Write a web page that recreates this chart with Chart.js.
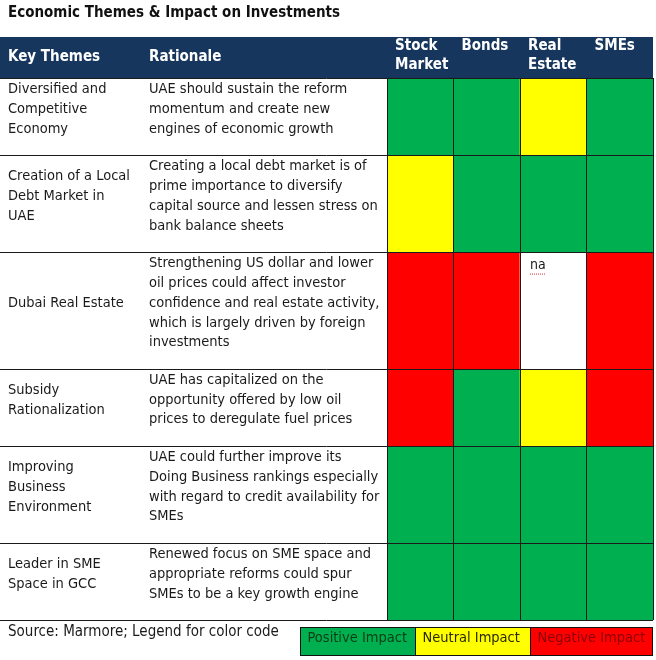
<!DOCTYPE html>
<html lang="en">
<head>
<meta charset="UTF-8">
<title>Economic Themes &amp; Impact on Investments</title>
<script src="https://cdn.jsdelivr.net/npm/chart.js"></script>
<style>
    body { margin: 0; background: #fff; }
</style>
</head>
<body>
<canvas id="myChart" width="656" height="660"></canvas>
<script>
const title = 'Economic Themes & Impact on Investments';
const textHeaders = ['Key Themes', 'Rationale'];
const impactColumns = [['Stock', 'Market'], ['Bonds'], ['Real', 'Estate'], ['SMEs']];

const themes = [
    ['Diversified and', 'Competitive', 'Economy'],
    ['Creation of a Local', 'Debt Market in', 'UAE'],
    ['Dubai Real Estate'],
    ['Subsidy', 'Rationalization'],
    ['Improving', 'Business', 'Environment'],
    ['Leader in SME', 'Space in GCC']
];
const rationales = [
    ['UAE should sustain the reform', 'momentum and create new', 'engines of economic growth'],
    ['Creating a local debt market is of', 'prime importance to diversify', 'capital source and lessen stress on', 'bank balance sheets'],
    ['Strengthening US dollar and lower', 'oil prices could affect investor', 'confidence and real estate activity,', 'which is largely driven by foreign', 'investments'],
    ['UAE has capitalized on the', 'opportunity offered by low oil', 'prices to deregulate fuel prices'],
    ['UAE could further improve its', 'Doing Business rankings especially', 'with regard to credit availability for', 'SMEs'],
    ['Renewed focus on SME space and', 'appropriate reforms could spur', 'SMEs to be a key growth engine']
];

// 1 = positive, 0 = neutral, -1 = negative, null = na
const stockMarket = [1, 0, -1, -1, 1, 1];
const bonds = [1, 1, -1, 1, 1, 1];
const realEstate = [0, 1, null, 0, 1, 1];
const smes = [1, 1, -1, -1, 1, 1];

const legendLabels = ['Positive Impact', 'Neutral Impact', 'Negative Impact'];
const sourceNote = 'Source: Marmore; Legend for color code';

const impacts = [stockMarket, bonds, realEstate, smes];
const fillFor = { '1': '#00B050', '0': '#FFFF00', '-1': '#FF0000', 'null': '#FFFFFF' };
const legendFills = ['#00B050', '#FFFF00', '#FF0000'];
const legendInk = ['#0b3d12', '#2a2a00', '#8a0008'];
const NAVY = '#17365D';
const FONT = '"DejaVu Sans Condensed", "DejaVu Sans", sans-serif';
const ROW_PAD = 0.9;

const rowLines = themes.map((t, i) => Math.max(t.length, rationales[i].length));
const rowSize = rowLines.map(n => n + ROW_PAD);
const total = rowSize.reduce((a, b) => a + b, 0);

const datasets = themes.map((t, i) => ({
    label: t.join(' '),
    data: impacts.map(() => rowSize[i]),
    backgroundColor: impacts.map(col => fillFor[String(col[i])]),
    borderWidth: 0,
    categoryPercentage: 1,
    barPercentage: 1
}));

const tablePlugin = {
    id: 'tableText',
    beforeDraw(chart) {
        const ctx = chart.ctx;
        ctx.save();
        ctx.fillStyle = NAVY;
        ctx.fillRect(0, 37, 653, chart.chartArea.top - 37);
        ctx.restore();
    },
    afterDraw(chart) {
        const ctx = chart.ctx;
        const x = chart.scales.x;
        const y = chart.scales.y;
        const area = chart.chartArea;
        const unit = y.getPixelForValue(1) - y.getPixelForValue(0);
        ctx.save();
        ctx.textBaseline = 'middle';

        // title
        ctx.fillStyle = '#111';
        ctx.font = 'bold 15px ' + FONT;
        ctx.fillText(title, 8, 13);

        // header
        ctx.fillStyle = '#fff';
        ctx.font = 'bold 15px ' + FONT;
        ctx.fillText(textHeaders[0], 8, 57);
        ctx.fillText(textHeaders[1], 149, 57);
        const half = (x.getPixelForValue(1) - x.getPixelForValue(0)) / 2;
        impactColumns.forEach((lines, c) => {
            const left = x.getPixelForValue(c) - half;
            lines.forEach((s, k) => ctx.fillText(s, left + 8, 46 + k * 19));
        });

        // rows
        let cum = 0;
        ctx.strokeStyle = '#1a1a1a';
        ctx.lineWidth = 1;
        ctx.beginPath();
        ctx.moveTo(0, Math.round(area.top) + 0.5);
        ctx.lineTo(653, Math.round(area.top) + 0.5);
        ctx.stroke();
        const body = '14.5px ' + FONT;
        ctx.font = body;
        ctx.fillStyle = '#1a1a1a';
        themes.forEach((t, i) => {
            const top = y.getPixelForValue(cum) + 1.5;
            cum += rowSize[i];
            const bottom = y.getPixelForValue(cum);
            const r = rationales[i];
            r.forEach((s, k) => ctx.fillText(s, 149, top + unit * (k + 0.5)));
            const mid = top + unit * r.length / 2;
            t.forEach((s, k) => ctx.fillText(s, 8, mid + unit * (k - (t.length - 1) / 2)));
            ctx.beginPath();
            ctx.moveTo(0, Math.round(bottom) + 0.5);
            ctx.lineTo(653, Math.round(bottom) + 0.5);
            ctx.stroke();
            impacts.forEach((col, c) => {
                if (col[i] === null) {
                    const left = x.getPixelForValue(c) - half;
                    ctx.font = '14px ' + FONT;
                    ctx.fillText('na', left + 10, top + 12);
                    const w = ctx.measureText('na').width;
                    ctx.strokeStyle = '#e03030';
                    ctx.setLineDash([1, 1]);
                    ctx.beginPath();
                    ctx.moveTo(left + 10, top + 20.5);
                    ctx.lineTo(left + 10 + w, top + 20.5);
                    ctx.stroke();
                    ctx.setLineDash([]);
                    ctx.strokeStyle = '#1a1a1a';
                    ctx.font = body;
                }
            });
        });

        // source note and colour legend
        ctx.font = '15px ' + FONT;
        ctx.fillText(sourceNote, 8, 632);
        const boxW = [115, 115, 122];
        let bx = 300.5;
        ctx.font = '14.5px ' + FONT;
        legendLabels.forEach((s, k) => {
            ctx.fillStyle = legendFills[k];
            ctx.fillRect(bx, 627.5, boxW[k], 28);
            ctx.strokeStyle = '#111';
            ctx.strokeRect(bx, 627.5, boxW[k], 28);
            ctx.fillStyle = legendInk[k];
            ctx.fillText(s, bx + 7, 638);
            bx += boxW[k];
        });
        ctx.restore();
    }
};

const ctx = document.getElementById('myChart').getContext('2d');
const myChart = new Chart(ctx, {
    type: 'bar',
    data: {
        labels: impactColumns.map(l => l.join(' ')),
        datasets: datasets
    },
    options: {
        responsive: false,
        animation: false,
        layout: { padding: { left: 387, right: 3, top: 37, bottom: 40 } },
        plugins: {
            legend: { display: false },
            tooltip: { enabled: false }
        },
        scales: {
            x: {
                position: 'top',
                stacked: true,
                offset: true,
                grid: { offset: true, color: '#1a1a1a', drawTicks: false, z: 1 },
                border: { display: false },
                ticks: { display: false },
                afterFit: s => { s.height = 41; }
            },
            y: {
                stacked: true,
                reverse: true,
                min: 0,
                max: total,
                display: false
            }
        }
    },
    plugins: [tablePlugin]
});
</script>
</body>
</html>
